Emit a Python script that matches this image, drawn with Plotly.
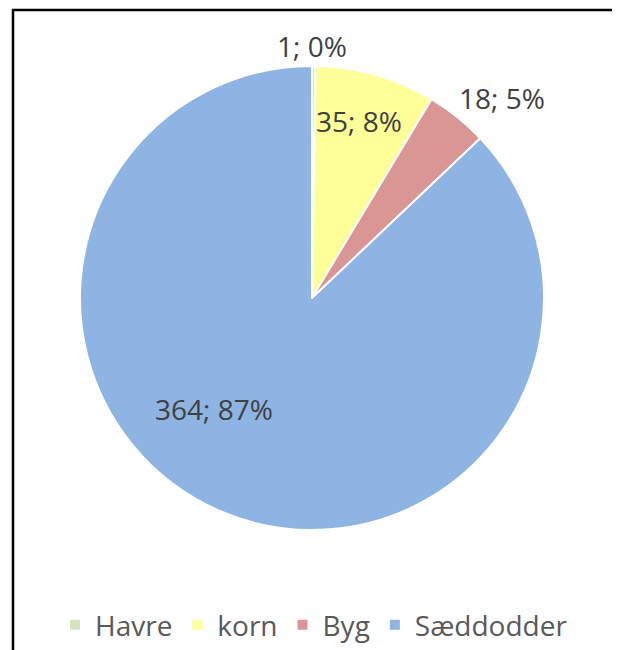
import plotly.graph_objects as go

categories = ["Havre", "korn", "Byg", "Sæddodder"]
values = [1, 35, 18, 364]
pct_labels = ["0%", "8%", "5%", "87%"]
colors = ["#d7e4bd", "#ffff99", "#d99694", "#8eb4e3"]

# page has an 8px body margin, so the figure is sized/offset accordingly
W, H = 612, 642
OFF = 8
cx, cy, r = 312 - OFF, 298 - OFF, 232

# label centres (page pixels) for the data labels, in category order
label_pos = [(312, 46), (359, 121), (502, 98), (214, 409)]

fig = go.Figure(go.Pie(
    labels=categories,
    values=values,
    textinfo="none",
    sort=False,
    direction="clockwise",
    rotation=0,
    marker=dict(colors=colors, line=dict(color="white", width=2)),
    domain=dict(x=[(cx - r) / W, (cx + r) / W], y=[(H - cy - r) / H, (H - cy + r) / H]),
    hoverinfo="skip",
))

annotations = []
for cat, v, p, (px, py) in zip(categories, values, pct_labels, label_pos):
    annotations.append(dict(
        text=f"{v}; {p}", xref="paper", yref="paper",
        x=(px - OFF) / W, y=(H - (py - OFF)) / H,
        xanchor="center", yanchor="middle", showarrow=False,
        font=dict(family="Open Sans", size=28, color="#404040"),
    ))

fig.update_layout(
    width=W, height=H,
    margin=dict(l=0, r=0, t=0, b=0),
    paper_bgcolor="white",
    showlegend=True,
    legend=dict(orientation="h", x=0.5, xanchor="center", y=(H - (625 - OFF)) / H, yanchor="middle",
                font=dict(family="Open Sans", size=28, color="#595959"),
                traceorder="normal"),
    annotations=annotations,
    shapes=[dict(type="rect", xref="paper", yref="paper",
                 x0=(13 - OFF) / W, x1=(614 - OFF) / W, y0=-0.05, y1=(H - (10 - OFF)) / H,
                 line=dict(color="black", width=2.5), fillcolor="rgba(0,0,0,0)")],
)

fig.write_html("out.html")
